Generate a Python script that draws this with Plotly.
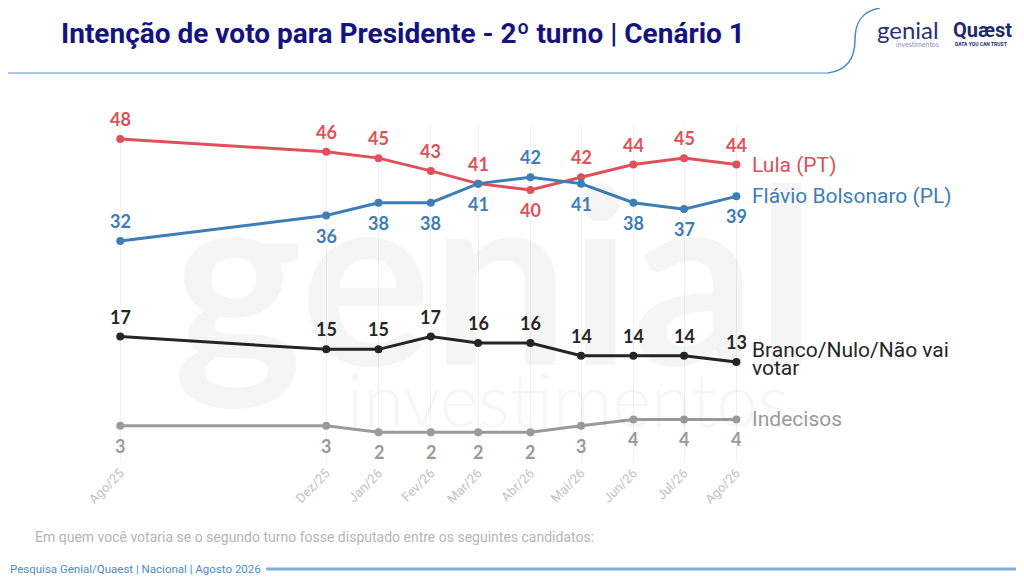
import plotly.graph_objects as go

# dados da pesquisa (2º turno, cenário 1)
meses = ["2025-08-01", "2025-12-01", "2026-01-01", "2026-02-01", "2026-03-01",
         "2026-04-01", "2026-05-01", "2026-06-01", "2026-07-01", "2026-08-01"]
rotulos_meses = ["Ago/25", "Dez/25", "Jan/26", "Fev/26", "Mar/26",
                 "Abr/26", "Mai/26", "Jun/26", "Jul/26", "Ago/26"]

lula = [48, 46, 45, 43, 41, 40, 42, 44, 45, 44]
flavio = [32, 36, 38, 38, 41, 42, 41, 38, 37, 39]
branco_nulo = [17, 15, 15, 17, 16, 16, 14, 14, 14, 13]
indecisos = [3, 3, 2, 2, 2, 2, 3, 4, 4, 4]

nomes = ["Lula (PT)", "Flávio Bolsonaro (PL)", "Branco/Nulo/Não vai<br>votar", "Indecisos"]

# rótulo acima (+1) ou abaixo (-1) do ponto
pos_lula = [1, 1, 1, 1, 1, -1, 1, 1, 1, 1]
pos_flavio = [1, -1, -1, -1, -1, 1, -1, -1, -1, -1]
pos_branco = [1] * 10
pos_indecisos = [-1] * 10

VERMELHO = "#E0505A"
AZUL = "#3D7DB8"
PRETO = "#262626"
CINZA = "#9A9A9A"
NAVY = "#15137E"

W, H = 1024, 582
OFF = 8  # margem padrão do <body> na página
# área do gráfico em pixels da imagem de referência
X0, X1, Y0, Y1 = 100, 760, 126, 462


def px(x):
    return (x - X0) / (X1 - X0)


def py(y):
    return (Y1 - y) / (Y1 - Y0)


fig = go.Figure()

series = [
    (lula, VERMELHO, pos_lula, nomes[0]),
    (flavio, AZUL, pos_flavio, nomes[1]),
    (branco_nulo, PRETO, pos_branco, nomes[2]),
    (indecisos, CINZA, pos_indecisos, nomes[3]),
]

# marca d'água bem clara
fig.add_annotation(x=px(495), y=py(270), xref="paper", yref="paper", text="genial",
                   showarrow=False, xanchor="center", yanchor="middle",
                   font=dict(family="Lato", size=245, color="rgba(0,0,0,0.04)", weight="bold"))
fig.add_annotation(x=px(568), y=py(398), xref="paper", yref="paper", text="investimentos",
                   showarrow=False, xanchor="center", yanchor="middle",
                   font=dict(family="Lato", size=74, color="rgba(0,0,0,0.035)", weight=300))

for valores, cor, pos, nome in series:
    fig.add_trace(go.Scatter(
        x=meses, y=valores,
        mode="lines+markers",
        line=dict(color=cor, width=3),
        marker=dict(color=cor, size=8),
        name=nome,
        showlegend=False,
        hoverinfo="x+y",
    ))
    # rótulos de dados
    for m, v, p in zip(meses, valores, pos):
        fig.add_annotation(
            x=m, y=v, xref="x", yref="y", text=str(v), showarrow=False,
            xanchor="center", yanchor="middle", yshift=20 * p,
            font=dict(family="Lato", size=18, color=cor, weight="bold"),
        )
    # nome da série à direita do último ponto (linhas separadas p/ entrelinha curta)
    linhas = nome.split("<br>")
    for i, linha in enumerate(linhas):
        fig.add_annotation(
            x=meses[-1], y=valores[-1], xref="x", yref="y",
            text=linha, showarrow=False, xanchor="left", yanchor="middle",
            xshift=14, yshift=(12 - 18 * i) if len(linhas) > 1 else 0,
            font=dict(family="Roboto", size=21, color=cor),
        )

# título
fig.add_annotation(x=px(59), y=py(33), xref="paper", yref="paper",
                   text="<b>Intenção de voto para Presidente - 2º turno | Cenário 1</b>",
                   showarrow=False, xanchor="left", yanchor="middle",
                   font=dict(family="Roboto", size=28, color=NAVY))

# logos
fig.add_annotation(x=px(941), y=py(30), xref="paper", yref="paper", text="genial",
                   showarrow=False, xanchor="right", yanchor="middle",
                   font=dict(family="Lato", size=24, color="#2A2F7A"))
fig.add_annotation(x=px(941), y=py(44), xref="paper", yref="paper", text="investimentos",
                   showarrow=False, xanchor="right", yanchor="middle",
                   font=dict(family="Lato", size=7, color="#8A8FB5"))
fig.add_annotation(x=px(951), y=py(30), xref="paper", yref="paper", text="<b>Quæst</b>",
                   showarrow=False, xanchor="left", yanchor="middle",
                   font=dict(family="Roboto", size=20, color="#1E2A6E"))
fig.add_annotation(x=px(953), y=py(44), xref="paper", yref="paper", text="<b>DATA YOU CAN TRUST</b>",
                   showarrow=False, xanchor="left", yanchor="middle",
                   font=dict(family="Roboto", size=5, color="#1E2A6E"))

# rodapé
fig.add_annotation(x=px(33), y=py(537), xref="paper", yref="paper",
                   text="Em quem você votaria se o segundo turno fosse disputado entre os seguintes candidatos:",
                   showarrow=False, xanchor="left", yanchor="middle",
                   font=dict(family="Roboto", size=14, color="#B5B5B5"))
fig.add_annotation(x=px(8), y=py(569), xref="paper", yref="paper",
                   text="Pesquisa Genial/Quaest | Nacional | Agosto 2026",
                   showarrow=False, xanchor="left", yanchor="middle",
                   font=dict(family="Roboto", size=11.5, color="#4A8CC8"))

# linhas decorativas do cabeçalho e rodapé
fig.add_shape(type="line", xref="paper", yref="paper", x0=px(0), x1=px(828), y0=py(73), y1=py(73),
              line=dict(color="#A9C8E6", width=2))
fig.add_shape(type="path", xref="paper", yref="paper",
              path=f"M {px(828)},{py(73)} C {px(850)},{py(70)} {px(855)},{py(55)} {px(855)},{py(40)} "
                   f"C {px(855)},{py(22)} {px(862)},{py(11)} {px(880)},{py(8)}",
              line=dict(color="#4A8CC8", width=1.5))
fig.add_shape(type="line", xref="paper", yref="paper", x0=px(266), x1=px(W), y0=py(569), y1=py(569),
              line=dict(color="#7FB0DD", width=3))

fig.update_layout(
    width=W, height=H,
    margin=dict(l=X0 - OFF, r=W - X1 + OFF, t=Y0 - OFF, b=H - Y1 + OFF),
    paper_bgcolor="white",
    plot_bgcolor="white",
    xaxis=dict(
        type="date",
        range=["2025-07-20", "2026-08-15"],
        tickvals=meses,
        ticktext=rotulos_meses,
        tickangle=-45,
        tickfont=dict(family="Roboto", size=13, color="#C2C2C2"),
        showgrid=True, gridcolor="#F0F0F0", gridwidth=1,
        showline=False, zeroline=False, ticks="",
        automargin=False,
    ),
    yaxis=dict(range=[-2.67, 50.04], visible=False, showgrid=False),
)

fig.write_html("out.html")
